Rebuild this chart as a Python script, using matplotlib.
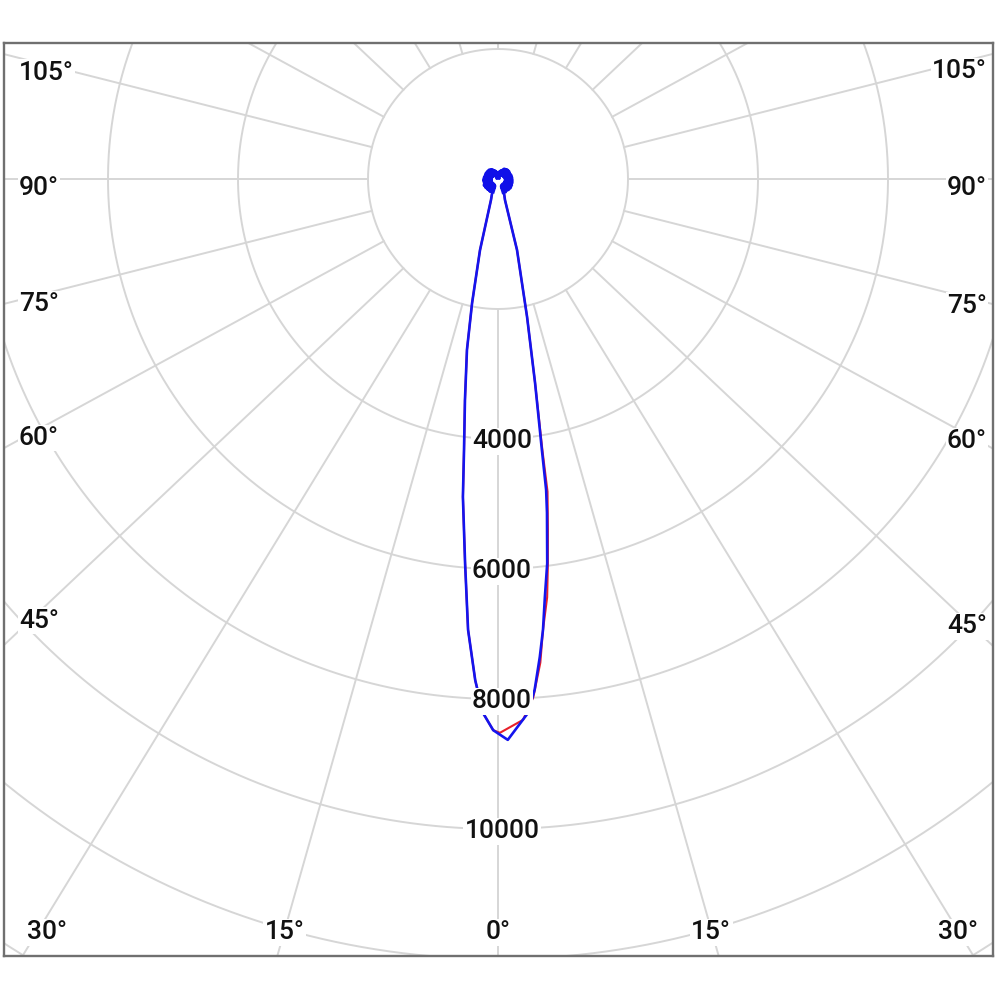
import numpy as np
import matplotlib.pyplot as plt

# luminous intensity (cd) against angle from nadir (deg), minus = left half
blue_ang = [-18.5, -14.2, -11.8, -10.3, -8.5, -7.15, -6.3, -4.9, -3.8, -2.6, -1.6, -0.5,
            1.0, 3.2, 4.1, 5.0, 5.7, 6.4, 7.3, 8.35, 8.8, 9.2, 10.3, 11.9, 15.0, 18.4]
blue_cd = [340, 1130, 1950, 2670, 3440, 4200, 4920, 5930, 6950, 7720, 8220, 8480,
           8630, 8230, 7880, 7380, 6970, 6470, 5960, 5190, 4840, 4225, 3190, 2170, 1130, 340]

red_ang = [-18.5, -14.2, -11.8, -10.3, -8.5, -7.15, -6.3, -4.9, -3.8, -2.6, -1.6, -0.5,
           0.2, 2.65, 3.9, 5.0, 5.7, 6.7, 7.4, 8.1, 9.0, 9.3, 10.3, 11.9, 15.0, 18.4]
red_cd = [340, 1130, 1950, 2670, 3440, 4200, 4920, 5930, 6950, 7720, 8220, 8480,
          8520, 8330, 7990, 7470, 6970, 6480, 5960, 5450, 4870, 4225, 3190, 2170, 1130, 340]

# small noisy readings behind the lamp, both planes on top of each other
rear_ang = [25, 30, 35, 40, 45, 50, 55, 60, 65, 70, 75, 80, 85, 90, 95, 100,
            105, 110, 115, 120, 125, 130, 135, 140, 145, 150, 155, 160, 165, 170, 175, 180]
rear_right = [210, 130, 205, 120, 215, 135, 220, 125, 215, 135, 210, 125, 205, 130, 200, 120,
              195, 115, 185, 105, 190, 100, 185, 90, 170, 80, 130, 70, 100, 50, 60, 30]
rear_left = [200, 125, 210, 115, 210, 130, 215, 120, 220, 130, 205, 120, 210, 125, 200, 115,
             190, 110, 190, 100, 185, 95, 180, 90, 160, 75, 125, 65, 95, 45, 55, 30]

rings = [2000, 4000, 6000, 8000, 10000, 12000, 14000, 16000, 18000]
ring_labels = [4000, 6000, 8000, 10000]
side_labels = [45, 60, 75, 90, 105]
bottom_labels = [0, 15, 30]

W = H = 1000
cx, cy = 498, 179          # pole, pixels from top-left
ppc = 130 / 2000           # pixels per cd
left, top, right, bottom = 4, 43, 993, 956
k = 1.06                   # spokes come out a bit wider than the rings


def X(xp):
    return (xp - cx) / ppc


def Y(yp):
    return (cy - yp) / ppc


def curve(ang, cd):
    a = np.radians(ang)
    cd = np.asarray(cd, float)
    return cd * np.sin(a), -cd * np.cos(a)


fig = plt.figure(figsize=(10, 10), dpi=100)
ax = fig.add_axes([left / W, 1 - bottom / H, (right - left) / W, (bottom - top) / H])
ax.set_xlim(X(left), X(right))
ax.set_ylim(Y(bottom), Y(top))
ax.set_xticks([])
ax.set_yticks([])
for s in ax.spines.values():
    s.set_color('#707070')
    s.set_linewidth(1.7)

grid = '#d6d6d6'
t = np.linspace(0, 2 * np.pi, 721)
for r in rings:
    ax.plot(r * np.cos(t), r * np.sin(t), color=grid, lw=1.4, zorder=1)
for a in range(0, 360, 15):
    th = np.radians(a)
    d = np.array([k * np.sin(th), -np.cos(th)])
    d /= np.hypot(*d)
    ax.plot([rings[0] * d[0], 40000 * d[0]], [rings[0] * d[1], 40000 * d[1]],
            color=grid, lw=1.4, zorder=1)

# back lobes first, then the main beam
full_ang = [-a for a in rear_ang[::-1]]
rx, ry = curve(full_ang + red_ang + rear_ang, rear_left[::-1] + red_cd + rear_right)
bx, by = curve(full_ang + blue_ang + rear_ang, rear_left[::-1] + blue_cd + rear_right)
ax.plot(rx, ry, color='#e8202a', lw=1.5, zorder=2, solid_joinstyle='round')
ax.plot(bx, by, color='#1414ee', lw=1.9, zorder=3, solid_joinstyle='round')

# the rear scribbles print as solid blobs
for ang, cd in ((full_ang, rear_left[::-1]), (rear_ang, rear_right)):
    x, y = curve(ang, cd)
    ax.plot(x, y, color='#1010e8', lw=3.6, zorder=3, solid_joinstyle='round')

font = dict(family='Roboto', fontsize=19, weight='medium', color='#111111', zorder=5,
            bbox=dict(facecolor='white', edgecolor='none', pad=1.0))

for v in ring_labels:
    ax.text(60, -v, str(v), ha='center', va='center_baseline', **font)

for a in side_labels:
    th = np.radians(a)
    slope = np.cos(th) / (k * np.sin(th))
    yl = cy + (cx - 40) * slope + 7
    yr = cy + (962 - cx) * slope + 7
    ax.text(X(19), Y(yl), f"{a}°", ha='left', va='center_baseline', **font)
    ax.text(X(987), Y(yr), f"{a}°", ha='right', va='center_baseline', **font)

for a in bottom_labels:
    off = (930 - cy) * k * np.tan(np.radians(a))
    for xp in sorted({cx - off, cx + off}):
        xp = min(max(xp, 47), 962)
        ax.text(X(xp), Y(930), f"{a}°", ha='center', va='center_baseline', **font)

fig.savefig('out.png', dpi=100, facecolor='white')
